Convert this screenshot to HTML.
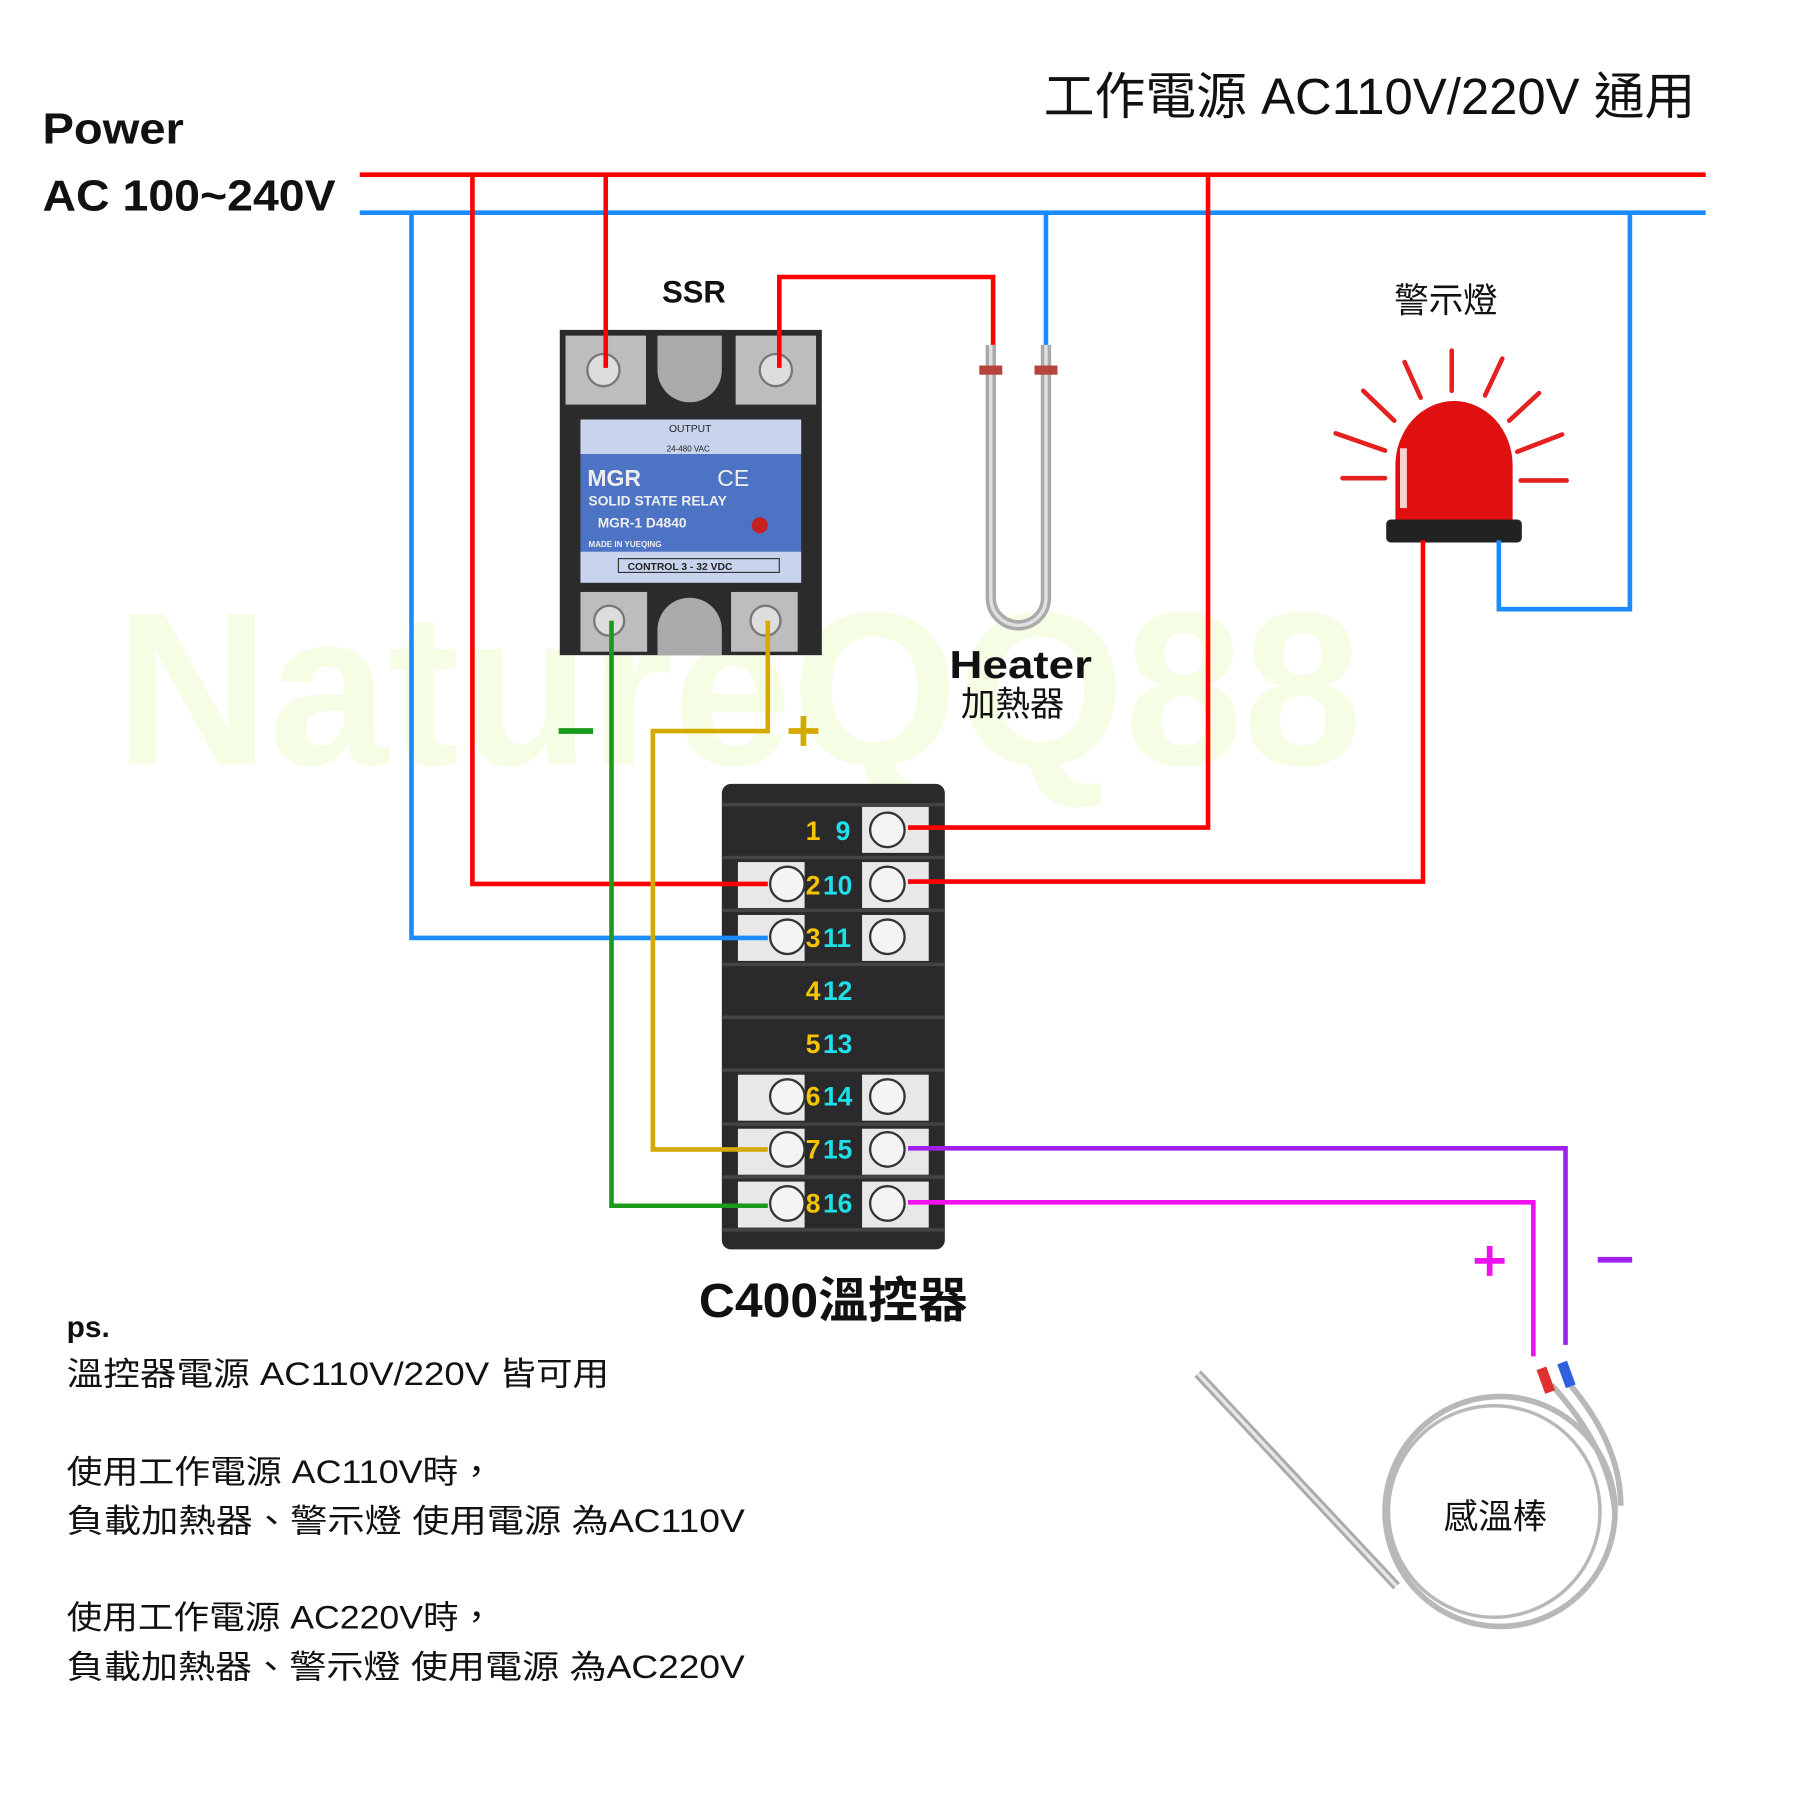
<!DOCTYPE html>
<html><head><meta charset="utf-8"><style>
html,body{margin:0;padding:0;background:#fff}
svg{display:block}
text{font-family:"Liberation Sans","Noto Sans CJK TC",sans-serif}
</style></head><body>
<svg width="1800" height="1800" viewBox="0 0 1566 1566" xmlns="http://www.w3.org/2000/svg">
<rect width="1566" height="1566" fill="#fff"/>
<text x="100" y="665" font-size="190" font-weight="bold" fill="#f5fde4" textLength="1085" lengthAdjust="spacingAndGlyphs">NatureQQ88</text>

<g font-weight="bold" fill="#111">
<text x="37" y="125" font-size="38" textLength="123" lengthAdjust="spacingAndGlyphs">Power</text>
<text x="37" y="183" font-size="38" textLength="255" lengthAdjust="spacingAndGlyphs">AC 100~240V</text>
<text x="908" y="99" font-size="44" font-weight="normal" textLength="567" lengthAdjust="spacingAndGlyphs">工作電源 AC110V/220V 通用</text>
<text x="576" y="263" font-size="27">SSR</text>
<text x="1213" y="272" font-size="30" font-weight="normal">警示燈</text>
<text x="826" y="590" font-size="34" textLength="124" lengthAdjust="spacingAndGlyphs">Heater</text>
<text x="836" y="623" font-size="30" font-weight="normal">加熱器</text>
<text x="608" y="1146" font-size="42" textLength="234" lengthAdjust="spacingAndGlyphs">C400溫控器</text>
<text x="58" y="1163" font-size="26">ps.</text>
<g font-weight="normal" font-size="28">
<text x="58" y="1205" textLength="472" lengthAdjust="spacingAndGlyphs">溫控器電源 AC110V/220V 皆可用</text>
<text x="58" y="1290" textLength="372" lengthAdjust="spacingAndGlyphs">使用工作電源 AC110V時，</text>
<text x="58" y="1333" textLength="590" lengthAdjust="spacingAndGlyphs">負載加熱器、警示燈 使用電源 為AC110V</text>
<text x="58" y="1417" textLength="372" lengthAdjust="spacingAndGlyphs">使用工作電源 AC220V時，</text>
<text x="58" y="1460" textLength="590" lengthAdjust="spacingAndGlyphs">負載加熱器、警示燈 使用電源 為AC220V</text>
</g>
<text x="1256" y="1330" font-size="30" font-weight="normal">感溫棒</text>
</g>

<!-- SSR -->
<g>
<rect x="487" y="287" width="228" height="283" fill="#2b2b2b"/>
<rect x="492" y="292" width="70" height="60" fill="#bdbdbd"/>
<rect x="640" y="292" width="70" height="60" fill="#bdbdbd"/>
<path d="M572 292 v30 a28 28 0 0 0 56 0 v-30z" fill="#aaa"/>
<rect x="505" y="365" width="192" height="142" fill="#4d74c4"/>
<rect x="505" y="365" width="192" height="30" fill="#c8d4ee"/>
<rect x="505" y="480" width="192" height="27" fill="#c8d4ee"/>
<text x="582" y="376" font-size="9" fill="#222">OUTPUT</text>
<text x="580" y="393" font-size="7" fill="#222">24-480 VAC</text>
<text x="511" y="423" font-size="20" font-weight="bold" fill="#eee">MGR</text>
<text x="624" y="423" font-size="20" fill="#eee">CE</text>
<text x="512" y="440" font-size="12" font-weight="bold" fill="#eee">SOLID STATE RELAY</text>
<text x="520" y="459" font-size="12" font-weight="bold" fill="#eee">MGR-1 D4840</text>
<text x="512" y="476" font-size="7" font-weight="bold" fill="#eee">MADE IN YUEQING</text>
<circle cx="661" cy="457" r="7" fill="#c62020"/>
<rect x="538" y="486" width="140" height="12" fill="none" stroke="#333"/>
<text x="546" y="496" font-size="9" font-weight="bold" fill="#222">CONTROL 3 - 32 VDC</text>
<rect x="505" y="515" width="58" height="52" fill="#bdbdbd"/>
<rect x="636" y="515" width="58" height="52" fill="#bdbdbd"/>
<path d="M572 570 v-22 a28 28 0 0 1 56 0 v22z" fill="#aaa"/>
<g fill="#ddd" stroke="#777" stroke-width="2"><circle cx="525" cy="322" r="14"/><circle cx="675" cy="322" r="14"/><circle cx="530" cy="540" r="13"/><circle cx="666" cy="540" r="13"/></g>
</g>

<!-- Heater -->
<path d="M862 300 V520 a24 24 0 0 0 48 0 V300" fill="none" stroke="#aaa" stroke-width="9"/>
<path d="M862 300 V520 a24 24 0 0 0 48 0 V300" fill="none" stroke="#e0e0e0" stroke-width="3"/>
<rect x="852" y="318" width="20" height="8" fill="#b4443c"/><rect x="900" y="318" width="20" height="8" fill="#b4443c"/>

<!-- Lamp -->
<g stroke="#e52020" stroke-width="4" stroke-linecap="round">
<line x1="1263" y1="305" x2="1263" y2="340"/><line x1="1222" y1="315" x2="1236" y2="346"/><line x1="1307" y1="312" x2="1292" y2="344"/>
<line x1="1186" y1="340" x2="1213" y2="366"/><line x1="1339" y1="342" x2="1313" y2="366"/>
<line x1="1162" y1="377" x2="1205" y2="392"/><line x1="1359" y1="378" x2="1320" y2="393"/>
<line x1="1168" y1="416" x2="1205" y2="416"/><line x1="1323" y1="418" x2="1363" y2="418"/>
</g>
<path d="M1214 455 V405 a50 55 0 0 1 102 0 V455z" fill="#e11010"/>
<rect x="1218" y="390" width="6" height="52" fill="#fff" opacity="0.8"/>
<rect x="1206" y="452" width="118" height="20" rx="4" fill="#222"/>

<!-- Terminal block -->
<g>
<rect x="628" y="682" width="194" height="405" rx="8" fill="#2a2a2c"/>
<g fill="#e8e8e8">
<rect x="750" y="702" width="58" height="40"/>
<rect x="642" y="750" width="58" height="40"/><rect x="750" y="750" width="58" height="40"/>
<rect x="642" y="796" width="58" height="40"/><rect x="750" y="796" width="58" height="40"/>
<rect x="642" y="935" width="58" height="40"/><rect x="750" y="935" width="58" height="40"/>
<rect x="642" y="982" width="58" height="40"/><rect x="750" y="982" width="58" height="40"/>
<rect x="642" y="1028" width="58" height="40"/><rect x="750" y="1028" width="58" height="40"/>
</g>
<g stroke="#444" stroke-width="3"><line x1="628" y1="700" x2="822" y2="700"/><line x1="628" y1="746" x2="822" y2="746"/><line x1="628" y1="792" x2="822" y2="792"/><line x1="628" y1="839" x2="822" y2="839"/><line x1="628" y1="885" x2="822" y2="885"/><line x1="628" y1="931" x2="822" y2="931"/><line x1="628" y1="978" x2="822" y2="978"/><line x1="628" y1="1024" x2="822" y2="1024"/><line x1="628" y1="1070" x2="822" y2="1070"/></g>
<g fill="#f4f4f4" stroke="#333" stroke-width="2">
<circle cx="772" cy="722" r="15"/><circle cx="685" cy="769" r="15"/><circle cx="772" cy="769" r="15"/>
<circle cx="685" cy="815" r="15"/><circle cx="772" cy="815" r="15"/><circle cx="685" cy="954" r="15"/><circle cx="772" cy="954" r="15"/>
<circle cx="685" cy="1000" r="15"/><circle cx="772" cy="1000" r="15"/><circle cx="685" cy="1047" r="15"/><circle cx="772" cy="1047" r="15"/>
</g>
<g font-size="23" font-weight="bold">
<text x="701" y="731" fill="#f5c400">1</text><text x="727" y="731" fill="#1ee0e8">9</text>
<text x="701" y="778" fill="#f5c400">2</text><text x="716" y="778" fill="#1ee0e8">10</text>
<text x="701" y="824" fill="#f5c400">3</text><text x="716" y="824" fill="#1ee0e8">11</text>
<text x="701" y="870" fill="#f5c400">4</text><text x="716" y="870" fill="#1ee0e8">12</text>
<text x="701" y="916" fill="#f5c400">5</text><text x="716" y="916" fill="#1ee0e8">13</text>
<text x="701" y="962" fill="#f5c400">6</text><text x="716" y="962" fill="#1ee0e8">14</text>
<text x="701" y="1008" fill="#f5c400">7</text><text x="716" y="1008" fill="#1ee0e8">15</text>
<text x="701" y="1055" fill="#f5c400">8</text><text x="716" y="1055" fill="#1ee0e8">16</text>
</g>
</g>

<!-- Probe -->
<line x1="1042" y1="1195" x2="1215" y2="1380" stroke="#aaa" stroke-width="8"/>
<line x1="1042" y1="1195" x2="1215" y2="1380" stroke="#e6e6e6" stroke-width="3"/>
<g fill="none" stroke="#b8b8b8" stroke-width="5">
<circle cx="1305" cy="1315" r="100"/><circle cx="1300" cy="1315" r="92" stroke-width="3"/>
<path d="M1350 1205 Q1400 1260 1405 1315"/><path d="M1362 1200 Q1410 1255 1410 1310"/>
</g>
<rect x="1340" y="1190" width="9" height="22" fill="#e03030" transform="rotate(-20 1344 1200)"/>
<rect x="1358" y="1185" width="9" height="22" fill="#3060e0" transform="rotate(-20 1362 1195)"/>

<!-- wires -->
<g fill="none" stroke-width="4">
<polyline points="313,152 1484,152" stroke="#f00"/>
<polyline points="313,185 1484,185" stroke="#1a8cff"/>
<polyline points="527,152 527,320" stroke="#f00"/>
<polyline points="411,152 411,769 668,769" stroke="#f00"/>
<polyline points="1051,152 1051,720 790,720" stroke="#f00"/>
<polyline points="678,320 678,241 864,241 864,300" stroke="#f00"/>
<polyline points="790,767 1238,767 1238,470" stroke="#f00"/>
<polyline points="358,185 358,816 668,816" stroke="#1a8cff"/>
<polyline points="910,185 910,300" stroke="#1a8cff"/>
<polyline points="1418,185 1418,530 1304,530 1304,470" stroke="#1a8cff"/>
<polyline points="532,540 532,1049 668,1049" stroke="#1a9a1a"/>
<polyline points="668,540 668,636 568,636 568,1000 668,1000" stroke="#d4aa00"/>
<polyline points="790,999 1362,999 1362,1170" stroke="#a020f0"/>
<polyline points="790,1046 1334,1046 1334,1180" stroke="#f010f0"/>
</g>
<g stroke-width="5">
<line x1="486" y1="636" x2="516" y2="636" stroke="#1a9a1a"/>
<line x1="686" y1="636" x2="712" y2="636" stroke="#d4aa00"/><line x1="699" y1="623" x2="699" y2="649" stroke="#d4aa00"/>
<line x1="1283" y1="1097" x2="1309" y2="1097" stroke="#f010f0"/><line x1="1296" y1="1084" x2="1296" y2="1110" stroke="#f010f0"/>
<line x1="1390" y1="1096" x2="1420" y2="1096" stroke="#a020f0"/>
</g>
</svg>
</body></html>
